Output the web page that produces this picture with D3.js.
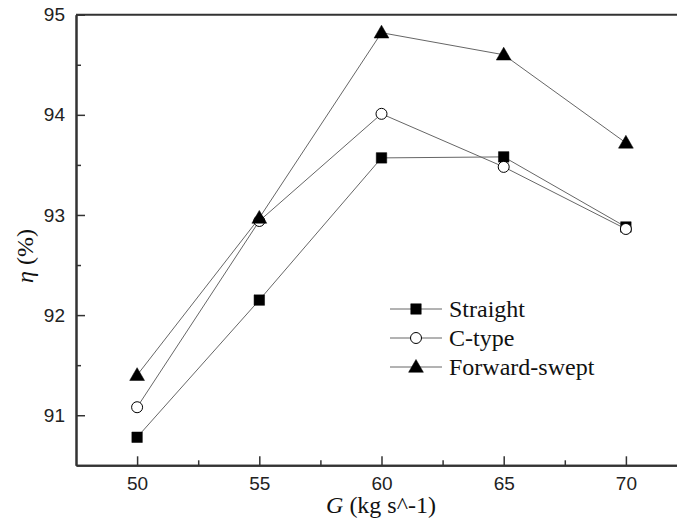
<!DOCTYPE html>
<html lang="en">
<head>
<meta charset="UTF-8">
<title>Efficiency vs G</title>
<script src="https://cdn.jsdelivr.net/npm/d3@7"></script>
<style>
  body, html {margin: 0; padding: 0; background: #fff;}
  .tick text {font-family: "Liberation Sans", Arial, sans-serif; font-size: 19px; fill: #222;}
  .serif {font-family: "Liberation Serif", "Times New Roman", serif; fill: #111;}
</style>
</head>
<body>
<div id="chart"></div>
<script>
// data
const massFlow = [50, 55, 60, 65, 70];
const straight = [90.78, 92.15, 93.57, 93.58, 92.88];
const cType = [91.08, 92.94, 94.01, 93.48, 92.86];
const forwardSwept = [91.40, 92.97, 94.82, 94.60, 93.72];
const seriesNames = ["Straight", "C-type", "Forward-swept"];
const xTicks = [50, 55, 60, 65, 70];
const xMinor = [52.5, 57.5, 62.5, 67.5];
const yTicks = [91, 92, 93, 94, 95];
const yMinor = [91.5, 92.5, 93.5, 94.5];

var width = 677, height = 522;
var mLeft = 76, mTop = 14.7, mBottom = 465.3;

var svg = d3.select("#chart").append("svg")
  .attr("width", width)
  .attr("height", height);

var x = d3.scaleLinear().domain([47.5, 72.5]).range([mLeft, 687]);
var y = d3.scaleLinear().domain([90.5, 95]).range([mBottom, mTop]);

var axisColor = "#333";

// x axis (ticks pointing inward)
svg.append("g").attr("transform", `translate(0,${mBottom})`)
  .call(d3.axisBottom(x).tickValues(xTicks).tickFormat(d3.format("d")).tickSizeInner(-9).tickSizeOuter(0).tickPadding(11));
svg.append("g").attr("transform", `translate(0,${mBottom})`)
  .call(d3.axisBottom(x).tickValues(xMinor).tickSizeInner(-5).tickSizeOuter(0).tickFormat(""));

// y axis
svg.append("g").attr("transform", `translate(${mLeft},0)`)
  .call(d3.axisLeft(y).tickValues(yTicks).tickFormat(d3.format("d")).tickSizeInner(-9).tickSizeOuter(0).tickPadding(11));
svg.append("g").attr("transform", `translate(${mLeft},0)`)
  .call(d3.axisLeft(y).tickValues(yMinor).tickSizeInner(-5).tickSizeOuter(0).tickFormat(""));

svg.selectAll(".domain").attr("stroke", axisColor).attr("stroke-width", 2);
svg.selectAll(".tick line").attr("stroke", axisColor).attr("stroke-width", 1.5);

// top frame line
svg.append("line")
  .attr("x1", mLeft).attr("x2", width)
  .attr("y1", mTop).attr("y2", mTop)
  .attr("stroke", axisColor).attr("stroke-width", 2);

// series
var allSeries = [straight, cType, forwardSwept];
var line = d3.line().x((d, i) => x(massFlow[i])).y(d => y(d));

var sym = [d3.symbolSquare, d3.symbolCircle, d3.symbolTriangle];
var symSize = [110, 95, 95];
var symFill = ["#000", "#fff", "#000"];

allSeries.forEach((s, k) => {
  svg.append("path")
    .datum(s)
    .attr("d", line)
    .attr("fill", "none")
    .attr("stroke", "#666")
    .attr("stroke-width", 1);
});

allSeries.forEach((s, k) => {
  svg.selectAll(".m" + k)
    .data(s)
    .enter().append("path")
    .attr("class", "m" + k)
    .attr("d", d3.symbol().type(sym[k]).size(symSize[k]))
    .attr("transform", (d, i) => `translate(${x(massFlow[i])},${y(d) + (k == 2 ? 1 : 0)})`)
    .attr("fill", symFill[k])
    .attr("stroke", "#000")
    .attr("stroke-width", k == 1 ? 1 : 0.5);
});

// legend
var legend = svg.append("g").attr("transform", "translate(390,309)");
seriesNames.forEach((name, k) => {
  var row = legend.append("g").attr("transform", `translate(0,${k * 29})`);
  row.append("line").attr("x1", 0).attr("x2", 52).attr("y1", 0).attr("y2", 0)
    .attr("stroke", "#666").attr("stroke-width", 1);
  row.append("path")
    .attr("d", d3.symbol().type(sym[k]).size(symSize[k]))
    .attr("transform", `translate(26,${k == 2 ? 1 : 0})`)
    .attr("fill", symFill[k]).attr("stroke", "#000").attr("stroke-width", k == 1 ? 1 : 0.5);
  row.append("text").attr("class", "serif")
    .attr("x", 59).attr("y", 8)
    .attr("font-size", 24)
    .text(name);
});

// axis titles
var xt = svg.append("text").attr("class", "serif")
  .attr("x", 381).attr("y", 513)
  .attr("text-anchor", "middle")
  .attr("font-size", 24);
xt.append("tspan").attr("font-style", "italic").text("G");
xt.append("tspan").text(" (kg s^-1)");

var yt = svg.append("text").attr("class", "serif")
  .attr("transform", "translate(33,256) rotate(-90)")
  .attr("text-anchor", "middle")
  .attr("font-size", 24);
yt.append("tspan").attr("font-style", "italic").text("η");
yt.append("tspan").text(" (%)");
</script>
</body>
</html>
